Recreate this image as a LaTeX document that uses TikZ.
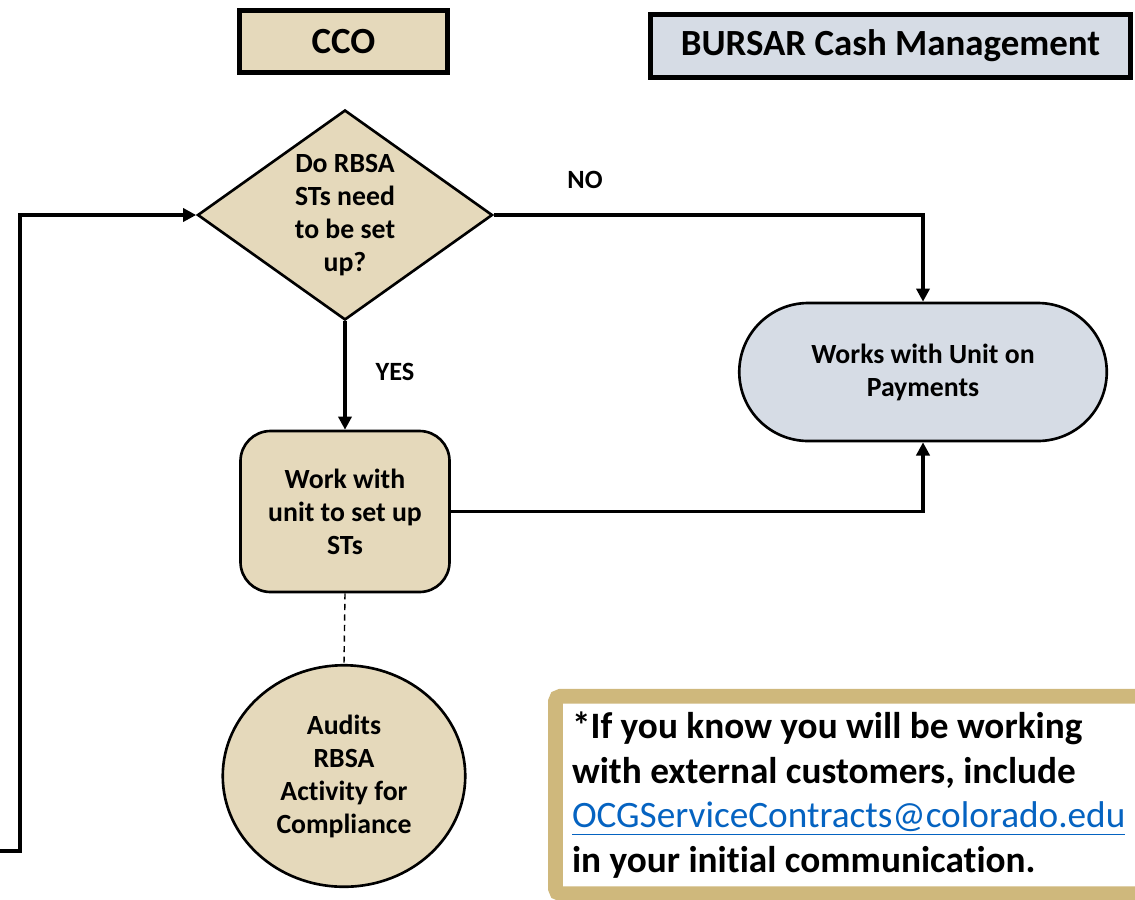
\documentclass[tikz,border=0pt]{standalone}
\usepackage{fontspec}
\setmainfont{Carlito}[Ligatures=NoCommon]
\usetikzlibrary{arrows.meta,shapes.geometric,positioning}
\definecolor{tanfill}{HTML}{E5D9BB}
\definecolor{slatefill}{HTML}{D6DCE5}
\definecolor{cugold}{HTML}{CFB87C}
\definecolor{linkblue}{HTML}{0563C1}

\begin{document}
\begin{tikzpicture}[>={Triangle[length=7.5pt,width=7.5pt]},
  font=\bfseries\fontsize{15.8}{18.8}\selectfont,
  header/.style={draw,line width=2.6pt,inner sep=0pt,align=center,
    font=\bfseries\fontsize{21}{24}\selectfont},
  stepbox/.style={draw,line width=1.5pt,inner sep=0pt,align=center},
  flow/.style={->,line width=2.2pt},
  tag/.style={font=\bfseries\fontsize{15}{17}\selectfont}]
  \useasboundingbox (0,0) rectangle (22.7,-17.98);

  \node[header,fill=tanfill,minimum width=4.17cm,minimum height=1.25cm] (cco) at (6.87,-0.83) {CCO};
  \node[header,fill=slatefill,minimum width=9.61cm,minimum height=1.27cm] (bursar) at (17.81,-0.92) {BURSAR Cash Management};

  \node[stepbox,diamond,aspect=1.4,fill=tanfill,minimum width=5.9cm,minimum height=4.2cm] (ask) at (6.9,-4.3)
    {Do RBSA\\STs need\\to be set\\up?};
  \node[stepbox,fill=tanfill,rounded corners=0.6cm,minimum width=4.18cm,minimum height=3.22cm] (work) at (6.9,-10.23)
    {Work with\\unit to set up\\STs};
  \node[stepbox,fill=slatefill,rounded corners=1.38cm,minimum width=7.35cm,minimum height=2.76cm] (pay) at (18.46,-7.44)
    {Works with Unit on\\Payments};
  \node[stepbox,ellipse,fill=tanfill,minimum width=4.85cm,minimum height=4.43cm] (audit) at (6.88,-15.52)
    {Audits\\RBSA\\Activity for\\Compliance};

  \node[tag] (nolabel) at (11.7,-3.6) {NO};
  \node[tag] (yeslabel) at (7.9,-7.44) {YES};

  \draw[flow] (ask.east) -| (pay.north);
  \draw[flow] (ask.south) -- (work.north);
  \draw[flow] (work.east) -| (pay.south);
  \draw[line width=0.8pt,dash pattern=on 3.5pt off 2.5pt] (work.south) -- (audit.north);
  \coordinate (entry) at (-0.2,-17.02);
  \coordinate (turn) at (0.4,-17.02);
  \draw[flow] (entry) -- (turn) |- (ask.west);

  \node[draw=cugold,line width=8.5pt,rounded corners=3pt,fill=white,align=flush left,
    text width=11.1cm,inner xsep=0.33cm,minimum height=3.95cm,
    font=\bfseries\fontsize{21.2}{25.5}\selectfont] (note) at (16.99,-15.9)
    {*If you know you will be working\\
     with external customers, include\\
     {\mdseries\color{linkblue}\underline{OCGServiceContracts@colorado.edu}}\\
     in your initial communication.};
\end{tikzpicture}
\end{document}
